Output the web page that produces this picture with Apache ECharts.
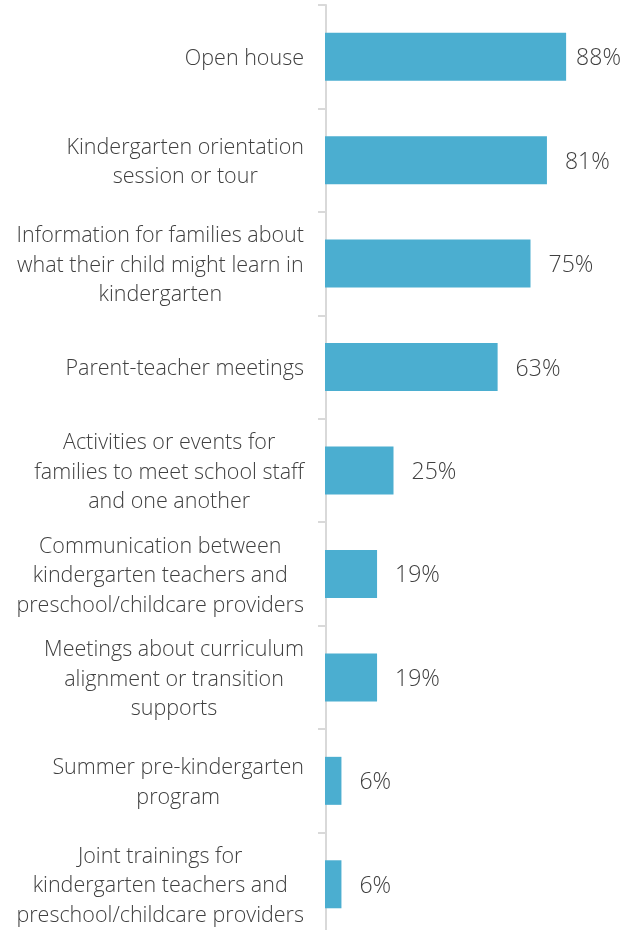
<!DOCTYPE html>
<html>
<head>
<meta charset="utf-8">
<script src="https://cdn.jsdelivr.net/npm/echarts@6/dist/echarts.min.js"></script>
<style>
    html, body { margin: 0; padding: 0; background: #fff; height: 930px; overflow: hidden; }
    #chart { width: 636px; height: 936px; }
</style>
</head>
<body>
<div id="chart"></div>
<script>
var categories = [
    "Open house",
    "Kindergarten orientation\nsession or tour",
    "Information for families about\nwhat their child might learn in\nkindergarten",
    "Parent-teacher meetings",
    "Activities or events for\nfamilies to meet school staff\nand one another",
    "Communication between\nkindergarten teachers and\npreschool/childcare providers",
    "Meetings about curriculum\nalignment or transition\nsupports",
    "Summer pre-kindergarten\nprogram",
    "Joint trainings for\nkindergarten teachers and\npreschool/childcare providers"
];
var values = [88, 81, 75, 63, 25, 19, 19, 6, 6];
var labels = ["88%", "81%", "75%", "63%", "25%", "19%", "19%", "6%", "6%"];

var textColor = '#404040';
var fontName = '"Open Sans", sans-serif';

var chart = echarts.init(document.getElementById('chart'));

var seriesData = [];
for (var i = 0; i < values.length; ++i) {
    var item = {value: values[i]};
    // 第一个标签离柱子更近
    if (i === 0) {
        item.label = {distance: 10};
    }
    seriesData.push(item);
}

var option = {
    animation: false,
    grid: {
        left: 325,
        top: 5,
        width: 274,
        bottom: 0
    },
    xAxis: {
        type: 'value',
        min: 0,
        max: 100,
        show: false
    },
    yAxis: {
        type: 'category',
        inverse: true,
        data: categories,
        offset: -1,
        axisLine: {
            show: true,
            lineStyle: {color: '#D9D9D9', width: 2}
        },
        axisTick: {
            show: true,
            length: 8,
            lineStyle: {color: '#D9D9D9', width: 2}
        },
        axisLabel: {
            margin: 22,
            padding: [4, 0, 0, 0],
            formatter: function (value) {
                return value.split('\n').map(function (l) {
                    return '{a|' + l + '}';
                }).join('\n');
            },
            rich: {
                a: {
                    align: 'center',
                    color: textColor,
                    fontFamily: fontName,
                    fontWeight: 300,
                    fontSize: 21.5,
                    lineHeight: 29.5
                }
            }
        }
    },
    series: [{
        type: 'bar',
        data: seriesData,
        barWidth: 48,
        itemStyle: {color: '#4BAED0'},
        label: {
            show: true,
            position: 'right',
            distance: 18,
            offset: [0, 2],
            color: textColor,
            fontFamily: fontName,
            fontWeight: 300,
            fontSize: 23,
            formatter: function (p) {
                return labels[p.dataIndex];
            }
        }
    }]
};

chart.setOption(option);
</script>
</body>
</html>
